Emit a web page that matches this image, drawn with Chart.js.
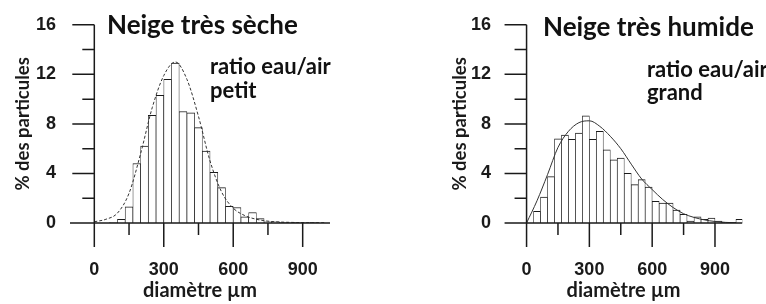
<!DOCTYPE html>
<html>
<head>
<meta charset="utf-8">
<script src="https://cdn.jsdelivr.net/npm/chart.js@4.4.0/dist/chart.umd.min.js"></script>
<style>
  body { margin: 0; background: #fff; }
  #wrap { position: relative; width: 766px; height: 304px; overflow: hidden; }
  canvas { position: absolute; top: 0; }
  .note { position: absolute; font-family: Lato, sans-serif; font-weight: 700; color: #111; white-space: nowrap; }
</style>
</head>
<body>
<div id="wrap">
  <canvas id="dry" width="383" height="304" style="left:0"></canvas>
  <canvas id="wet" width="383" height="304" style="left:383px"></canvas>
  <div class="note" style="left:107px;top:9px;font-size:26px;line-height:31px">Neige très sèche</div>
  <div class="note" style="left:210px;top:54px;font-size:22px;line-height:24px">ratio eau/air<br>petit</div>
  <div class="note" style="left:543px;top:11px;font-size:26px;line-height:31px">Neige très humide</div>
  <div class="note" style="left:647px;top:57px;font-size:22px;line-height:23px">ratio eau/air<br>grand</div>
</div>
<script>
// classes de diamètre (centre de chaque classe, µm)
const binCenters = [16.7, 50, 83.3, 116.7, 150, 183.3, 216.7, 250, 283.3, 316.7, 350, 383.3, 416.7, 450, 483.3, 516.7,
  550, 583.3, 616.7, 650, 683.3, 716.7, 750, 783.3, 816.7, 850, 883.3, 916.7, 950, 983.3, 1016.7];
// % des particules par classe
const dryPct = [0, 0, 0.05, 0.3, 1.3, 4.8, 6.2, 8.7, 10.3, 11.6, 12.9, 9.0, 8.9, 7.7, 5.8, 4.1,
  2.85, 1.35, 1.25, 0.5, 0.85, 0.35, 0.1, 0.1, 0.03, 0.05, 0.03, 0.05, 0.03, 0, 0];
const wetPct = [0, 0.95, 2.1, 3.75, 6.8, 7.1, 6.75, 7.25, 8.65, 6.75, 7.4, 5.9, 5.1, 5.25, 4.0, 3.1,
  3.5, 2.9, 1.75, 1.6, 1.6, 1.05, 0.7, 0.15, 0.5, 0.3, 0.4, 0.15, 0.05, 0.05, 0.3];
// courbes ajustées
const curveX = [0, 50, 100, 150, 200, 250, 300, 350, 400, 450, 500, 550, 600, 650, 700, 750, 800, 850, 900, 950, 1000];
const dryFit = [0.1, 0.3, 0.8, 2.4, 5.6, 9.3, 11.9, 13.0, 11.6, 8.6, 5.0, 2.5, 1.2, 0.6, 0.3, 0.15, 0.08, 0.05, 0.03, 0.02, 0.02];
const wetFit = [0, 1.8, 3.9, 6.1, 7.4, 8.1, 8.25, 7.8, 7.0, 6.0, 4.75, 3.55, 2.7, 1.9, 1.25, 0.75, 0.45, 0.25, 0.12, 0.05, 0.02];
// graduations
const xLabelTicks = [0, 300, 600, 900];
const xMinorTicks = [150, 450, 750];
const yLabelTicks = [0, 4, 8, 12, 16];
const yMinorTicks = [2, 6, 10, 14];

const ink = '#1a1a1a';

// axes dessinés à la main (ticks longs / courts comme l'original)
const axesPlugin = {
  id: 'axes',
  afterDatasetsDraw(chart) {
    const { ctx, chartArea } = chart;
    const xs = chart.scales.x, ys = chart.scales.y;
    const x0 = xs.getPixelForValue(0);
    const y0 = ys.getPixelForValue(0);
    ctx.save();
    ctx.strokeStyle = ink;
    ctx.lineWidth = 1.5;
    ctx.beginPath();
    ctx.moveTo(chartArea.left, y0);
    ctx.lineTo(chartArea.right, y0);
    ctx.moveTo(x0, ys.getPixelForValue(16));
    ctx.lineTo(x0, y0 + 24);
    xLabelTicks.forEach(v => {
      const p = xs.getPixelForValue(v);
      ctx.moveTo(p, y0); ctx.lineTo(p, y0 + 24);
    });
    xMinorTicks.forEach(v => {
      const p = xs.getPixelForValue(v);
      ctx.moveTo(p, y0); ctx.lineTo(p, y0 + 12);
    });
    yLabelTicks.forEach(v => {
      const p = ys.getPixelForValue(v);
      ctx.moveTo(x0 - 22, p); ctx.lineTo(x0, p);
    });
    yMinorTicks.forEach(v => {
      const p = ys.getPixelForValue(v);
      ctx.moveTo(x0 - 12, p); ctx.lineTo(x0, p);
    });
    ctx.stroke();
    ctx.restore();
  }
};

function makeChart(id, pct, fit, dashed, xMin, xMax, yWidth, rightPad, yTitlePad) {
  return new Chart(document.getElementById(id), {
    type: 'bar',
    data: {
      datasets: [{
        type: 'line',
        data: curveX.map((x, i) => ({ x: x, y: fit[i] })),
        borderColor: '#333',
        borderWidth: 1,
        borderDash: dashed ? [3, 2] : [],
        pointRadius: 0,
        cubicInterpolationMode: 'monotone',
        fill: false,
        order: 0
      }, {
        data: binCenters.map((x, i) => ({ x: x, y: pct[i] })),
        backgroundColor: '#fff',
        borderColor: ink,
        borderWidth: { top: 1, left: 0.7, right: 0.7, bottom: 0 },
        borderSkipped: false,
        barPercentage: 1,
        categoryPercentage: 1,
        order: 1
      }]
    },
    options: {
      responsive: false,
      animation: false,
      layout: { padding: { top: 16, right: rightPad, bottom: 0, left: 0 } },
      plugins: { legend: { display: false }, tooltip: { enabled: false } },
      scales: {
        x: {
          type: 'linear',
          offset: false,
          min: xMin,
          max: xMax,
          grid: { display: false, drawTicks: false },
          border: { display: false },
          afterBuildTicks: s => { s.ticks = xLabelTicks.map(v => ({ value: v })); },
          afterFit: s => { s.height = 81; },
          ticks: {
            padding: 36,
            color: ink,
            maxRotation: 0,
            font: { family: 'Liberation Sans', size: 18, weight: 'bold' }
          },
          title: {
            display: true,
            text: 'diamètre µm',
            color: ink,
            padding: { top: 0, bottom: 1 },
            font: { family: 'Lato', size: 20, weight: 'bold' }
          }
        },
        y: {
          min: 0,
          max: 16,
          grid: { display: false, drawTicks: false },
          border: { display: false },
          afterBuildTicks: s => { s.ticks = yLabelTicks.map(v => ({ value: v })); },
          afterFit: s => { s.width = yWidth; },
          ticks: {
            padding: 14,
            color: ink,
            font: { family: 'Liberation Sans', size: 18, weight: 'bold' }
          },
          title: {
            display: true,
            text: '% des particules',
            color: ink,
            padding: { top: yTitlePad, bottom: 0 },
            font: { family: 'Lato', size: 18.5, weight: 'bold' }
          }
        }
      }
    },
    plugins: [axesPlugin]
  });
}

makeChart('dry', dryPct, dryFit, true, -105, 1018, 70, 53, 12);
makeChart('wet', wetPct, wetFit, false, -103, 1030, 122, 0, 66);
</script>
</body>
</html>
